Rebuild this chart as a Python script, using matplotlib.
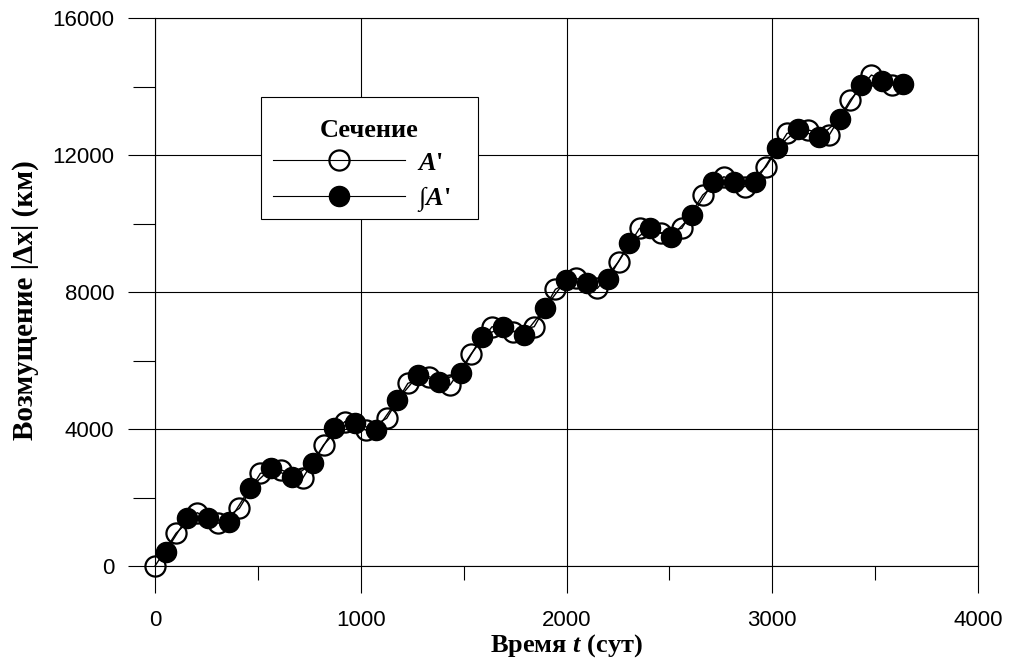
import matplotlib
matplotlib.use("Agg")
import matplotlib.pyplot as plt
from matplotlib.patches import Rectangle
from matplotlib.ticker import MultipleLocator

plt.rcParams['mathtext.fontset'] = 'custom'
plt.rcParams['mathtext.rm'] = 'Liberation Serif:bold'
plt.rcParams['mathtext.it'] = 'Liberation Serif:italic:bold'
plt.rcParams['mathtext.bf'] = 'Liberation Serif:bold'

# сечение A'
t_open = [0, 102, 205, 307, 410, 512, 614, 717, 819, 922, 1024, 1126,
          1229, 1331, 1434, 1536, 1638, 1741, 1843, 1946, 2048, 2150,
          2253, 2355, 2458, 2560, 2662, 2765, 2867, 2970, 3072, 3174,
          3277, 3379, 3482, 3584]
dx_open = [0, 955, 1556, 1247, 1685, 2706, 2803, 2560, 3533, 4213, 3970,
           4312, 5334, 5528, 5285, 6190, 6987, 6842, 6987, 8079, 8400,
           8108, 8885, 9860, 9713, 9860, 10832, 11367, 11075, 11659,
           12633, 12730, 12584, 13606, 14336, 14044]

# сечение интеграл A'
t_fill = [51, 154, 256, 358, 461, 563, 666, 768, 870, 973, 1075, 1178,
          1280, 1382, 1485, 1587, 1690, 1792, 1894, 1997, 2099, 2202,
          2304, 2406, 2509, 2611, 2714, 2816, 2918, 3021, 3123, 3226,
          3328, 3430, 3533, 3635]
dx_fill = [418, 1393, 1393, 1294, 2268, 2852, 2589, 2998, 4020, 4166, 3970,
           4847, 5577, 5381, 5644, 6695, 6969, 6745, 7523, 8350, 8254,
           8370, 9422, 9860, 9615, 10248, 11220, 11202, 11202, 12196,
           12750, 12517, 13042, 14044, 14170, 14073]

serif = ['Liberation Serif', 'DejaVu Serif']
sans = ['Liberation Sans', 'DejaVu Sans']

fig = plt.figure(figsize=(10.12, 6.68), dpi=100)
ax = fig.add_axes([0.1532, 0.1527, 0.8132, 0.8203])

ax.plot(t_open, dx_open, '-', color='black', lw=1.0,
        marker='o', ms=14.5, mfc='none', mec='black', mew=1.6,
        label="$A$'", clip_on=False, zorder=3)
ax.plot(t_fill, dx_fill, '-', color='black', lw=1.0,
        marker='o', ms=14.5, mfc='black', mec='black', mew=1.0,
        label="\u222B$A$'", clip_on=False, zorder=4)

ax.set_xlim(0, 4000)
ax.set_ylim(0, 16000)
ax.xaxis.set_major_locator(MultipleLocator(1000))
ax.xaxis.set_minor_locator(MultipleLocator(500))
ax.yaxis.set_major_locator(MultipleLocator(4000))
ax.yaxis.set_minor_locator(MultipleLocator(2000))

ax.grid(True, which='major', color='black', lw=0.8)
for s in ax.spines.values():
    s.set_color('black')
    s.set_linewidth(0.8)

ax.tick_params(axis='x', which='major', direction='out', length=19.5,
               width=0.8, pad=12, labelsize=16)
ax.tick_params(axis='x', which='minor', direction='out', length=10, width=0.8)
ax.tick_params(axis='y', which='major', direction='out', length=19.5,
               width=0.8, pad=10, labelsize=16)
ax.tick_params(axis='y', which='minor', direction='out', length=16, width=0.8)
for lab in ax.get_xticklabels() + ax.get_yticklabels():
    lab.set_fontfamily(sans)

ax.set_xlabel("Время $t$ (сут)", fontfamily=serif,
              fontweight='bold', fontsize=19, labelpad=1)
ax.set_ylabel("Возмущение |\u0394x| (км)", fontfamily=serif,
              fontweight='bold', fontsize=21, labelpad=6)
ax.yaxis.set_label_coords(-0.141, 0.485)

# рамка легенды рисуется отдельно
box = Rectangle((0.1288, 0.6332), 0.2637, 0.2226, transform=ax.transAxes,
                facecolor='white', edgecolor='black', lw=0.8, zorder=5)
ax.add_patch(box)

leg = ax.legend(loc='upper left', bbox_to_anchor=(0.1288, 0.5, 0.2637, 0.3376),
                mode='expand', title='Сечение', handlelength=5.0,
                handletextpad=0.45, borderpad=0.45, borderaxespad=0,
                labelspacing=0.35, frameon=False,
                prop={'family': serif, 'weight': 'bold', 'size': 19})
leg.set_zorder(6)
leg.get_title().set_fontfamily(serif)
leg.get_title().set_fontweight('bold')
leg.get_title().set_fontsize(19)
for ln in leg.get_lines():
    ln.set_linewidth(0.8)
    ln.set_markersize(14.5)

fig.savefig('out.png', dpi=100)
